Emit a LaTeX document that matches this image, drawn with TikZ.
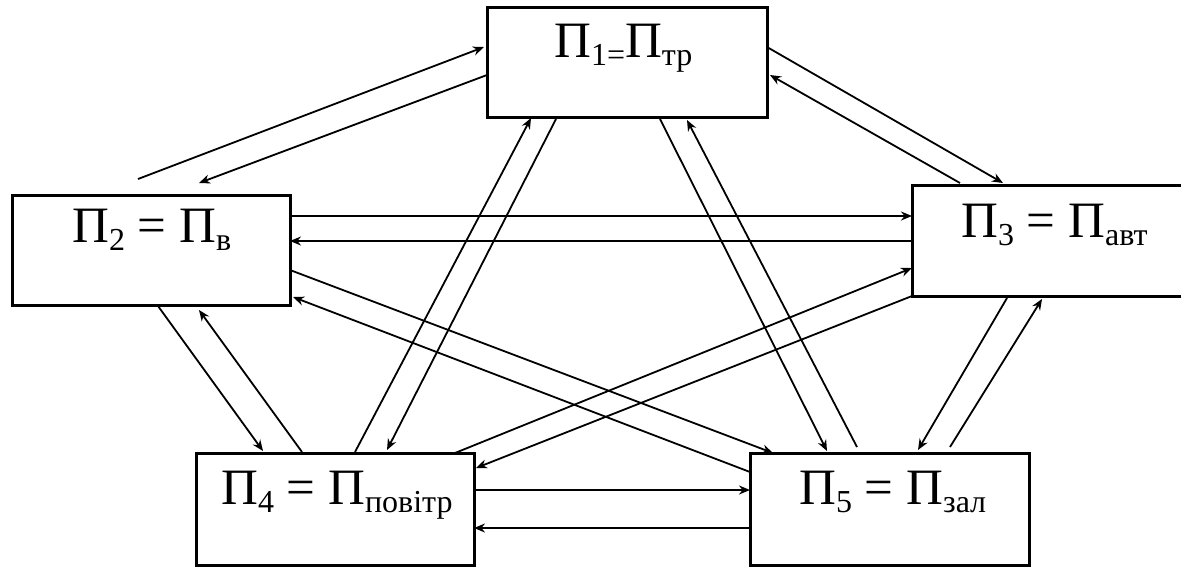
\documentclass[tikz,border=0pt]{standalone}
\usepackage{fontspec}
\setmainfont{Liberation Serif}
\usetikzlibrary{arrows.meta}
\newcommand{\sbx}[1]{\raisebox{-8pt}{\fontsize{32}{32}\selectfont #1}}
\tikzset{
  box/.style={draw, line width=3pt, outer sep=0pt, inner sep=0pt, rectangle},
  lbl/.style={anchor=base west, inner sep=0pt, font=\fontsize{51}{60}\selectfont},
  con/.style={line width=1.8pt, -{Stealth[length=11pt,width=9pt]}},
  hcon/.style={line width=2.6pt, -{Stealth[length=11pt,width=9pt]}}
}
\begin{document}
\begin{tikzpicture}[x=1pt,y=-1pt]
\useasboundingbox (0,0) rectangle (1181,566);
\fill[white] (0,0) rectangle (1181,566);
% boxes
\node[box, minimum width=280pt, minimum height=110pt] (p1) at (627,62) {};
\node[box, minimum width=278pt, minimum height=110pt] (p2) at (151,250) {};
\node[box, minimum width=283pt, minimum height=111pt] (p3) at (1053.5,240.5) {};
\node[box, minimum width=278pt, minimum height=112pt] (p4) at (335,509) {};
\node[box, minimum width=279pt, minimum height=112pt] (p5) at (889.5,509) {};
% labels
\node[lbl] (t1) at (554,57) {П\sbx{1=}П\sbx{тр}};
\node[lbl] (t2) at (72,242) {П\sbx{2} = П\sbx{в}};
\node[lbl] (t3) at (961,237) {П\sbx{3} = П\sbx{авт}};
\node[lbl] (t4) at (221,504) {П\sbx{4} = П\sbx{повітр}};
\node[lbl] (t5) at (799,504) {П\sbx{5} = П\sbx{зал}};
% connectors
\draw[con] ([shift={(126,-16)}]p2.north west) -- ([shift={(-3,40)}]p1.north west);
\draw[con] ([shift={(0,68)}]p1.north west) -- ([shift={(187,-12)}]p2.north west);
\draw[con] ([shift={(280,40)}]p1.north west) -- ([shift={(91,-2)}]p3.north west);
\draw[con] ([shift={(48,-2)}]p3.north west) -- ([shift={(283,68)}]p1.north west);
\draw[hcon] ([shift={(278,21)}]p2.north west) -- ([shift={(0,31)}]p3.north west);
\draw[hcon] ([shift={(0,56)}]p3.north west) -- ([shift={(278,46)}]p2.north west);
\draw[con] ([shift={(278,75)}]p2.north west) -- ([shift={(23,0)}]p5.north west);
\draw[con] ([shift={(0,19)}]p5.north west) -- ([shift={(281,102)}]p2.north west);
\draw[con] ([shift={(259,0)}]p4.north west) -- ([shift={(0,83)}]p3.north west);
\draw[con] ([shift={(0,111)}]p3.north west) -- ([shift={(280,15)}]p4.north west);
\draw[con] ([shift={(159,-1)}]p4.north west) -- ([shift={(44,111)}]p1.north west);
\draw[con] ([shift={(69,112)}]p1.north west) -- ([shift={(191,-3)}]p4.north west);
\draw[con] ([shift={(173,112)}]p1.north west) -- ([shift={(77,-2)}]p5.north west);
\draw[con] ([shift={(107,-6)}]p5.north west) -- ([shift={(200,113)}]p1.north west);
\draw[con] ([shift={(146,111)}]p2.north west) -- ([shift={(67,-2)}]p4.north west);
\draw[con] ([shift={(106,-1)}]p4.north west) -- ([shift={(187,115)}]p2.north west);
\draw[con] ([shift={(95,113)}]p3.north west) -- ([shift={(168,-3)}]p5.north west);
\draw[con] ([shift={(200,-6)}]p5.north west) -- ([shift={(130,114)}]p3.north west);
\draw[hcon] ([shift={(278,37)}]p4.north west) -- ([shift={(0,37)}]p5.north west);
\draw[hcon] ([shift={(0,75)}]p5.north west) -- ([shift={(278,75)}]p4.north west);
\end{tikzpicture}
\end{document}
